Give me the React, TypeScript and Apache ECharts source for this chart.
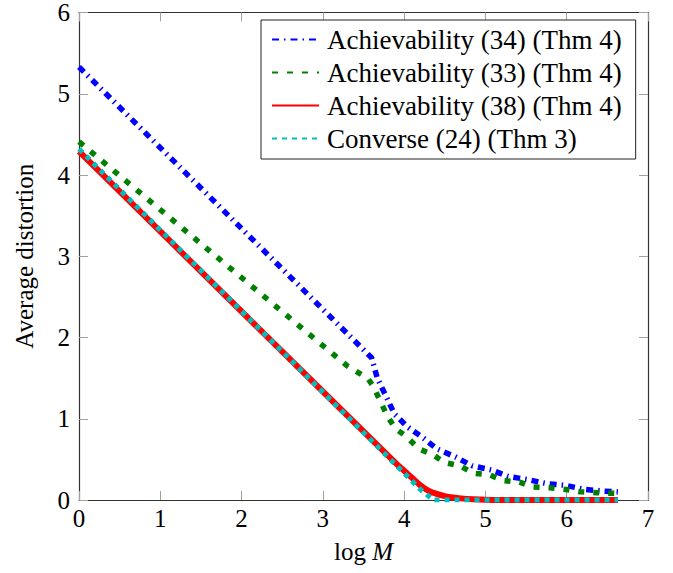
import React, { useEffect, useRef } from "react";
import * as echarts from "echarts";

const seriesNames = [
  "Achievability (34) (Thm 4)",
  "Achievability (33) (Thm 4)",
  "Achievability (38) (Thm 4)",
  "Converse (24) (Thm 3)",
];

const ach34: [number, number][] = [
  [0, 5.33], [3.6, 1.75], [3.67, 1.5], [3.78, 1.27], [3.88, 1.06], [4.04, 0.9],
  [4.24, 0.76], [4.4, 0.63], [4.63, 0.53], [4.84, 0.42], [5.07, 0.37], [5.28, 0.29],
  [5.53, 0.25], [5.76, 0.2], [5.99, 0.18], [6.22, 0.13], [6.45, 0.11], [6.63, 0.1],
];

const ach33: [number, number][] = [
  [0, 4.41], [3.0, 1.9], [3.3, 1.65], [3.55, 1.5], [3.62, 1.4], [3.7, 1.23],
  [3.79, 1.04], [3.89, 0.88], [4.03, 0.78], [4.18, 0.63], [4.35, 0.56], [4.5, 0.46],
  [4.69, 0.42], [4.85, 0.33], [5.05, 0.31], [5.21, 0.24], [5.42, 0.22], [5.58, 0.16],
  [5.79, 0.15], [5.99, 0.13], [6.17, 0.1], [6.36, 0.09], [6.63, 0.08],
];

const ach38: [number, number][] = [
  [0, 4.29], [2.0, 2.32], [3.9, 0.45], [4.0, 0.36], [4.1, 0.27], [4.2, 0.18],
  [4.25, 0.145], [4.3, 0.115], [4.4, 0.075], [4.5, 0.048], [4.6, 0.031], [4.7, 0.02],
  [4.85, 0.01], [5.0, 0.004], [5.3, 0], [6.63, 0],
];

const converse24: [number, number][] = [
  [0, 4.32], [4.0, 0.33], [4.2, 0.13], [4.36, 0], [6.63, 0],
];

const xTicks = { min: 0, max: 7, interval: 1 };
const yTicks = { min: 0, max: 6, interval: 1 };

const FONT = "Liberation Serif";
const FS = 25;
const LFS = 27;

export default function App() {
  const ref = useRef<HTMLDivElement>(null);
  useEffect(() => {
    if (!ref.current) return;
    const chart = echarts.init(ref.current, undefined, { renderer: "svg" });
    const tick = { show: true, inside: true, length: 9, lineStyle: { color: "#a0a0a0", width: 1 } };
    const line = { show: true, onZero: false, lineStyle: { color: "#333", width: 1.2 } };
    const xLabel = { fontFamily: FONT, fontSize: FS, color: "#000", margin: 6 };
    const yLabel = { fontFamily: FONT, fontSize: FS, color: "#000", margin: 9 };
    chart.setOption({
      animation: false,
      backgroundColor: "#fff",
      grid: { left: 79, right: 25, top: 10, bottom: 73, containLabel: false },
      xAxis: [
        {
          type: "value", ...xTicks, position: "bottom",
          axisLine: line, axisTick: tick, axisLabel: xLabel, splitLine: { show: false },
          name: "log {i|M}", nameLocation: "middle", nameGap: 39,
          nameTextStyle: {
            fontFamily: FONT, fontSize: FS, color: "#000",
            rich: { i: { fontFamily: FONT, fontSize: FS, fontStyle: "italic", color: "#000" } },
          },
        },
        {
          type: "value", ...xTicks, position: "top",
          axisLine: line, axisTick: tick, axisLabel: { show: false }, splitLine: { show: false },
        },
      ],
      yAxis: [
        {
          type: "value", ...yTicks, position: "left",
          axisLine: line, axisTick: tick, axisLabel: yLabel, splitLine: { show: false },
          name: "Average distortion", nameLocation: "middle", nameGap: 42, nameRotate: 90,
          nameTextStyle: { fontFamily: FONT, fontSize: FS, color: "#000" },
        },
        {
          type: "value", ...yTicks, position: "right",
          axisLine: line, axisTick: tick, axisLabel: { show: false }, splitLine: { show: false },
        },
      ],
      legend: {
        left: 261, top: 20, orient: "vertical",
        data: seriesNames,
        backgroundColor: "#fff", borderColor: "#222", borderWidth: 1,
        padding: [6, 14, 7, 10], itemGap: 6, itemWidth: 47, itemHeight: 8,
        itemStyle: { opacity: 0 },
        textStyle: { fontFamily: FONT, fontSize: LFS, color: "#000", padding: [0, 0, 0, 3] },
        selectedMode: false,
      },
      series: [
        {
          name: seriesNames[0], type: "line", data: ach34, symbol: "none", z: 2,
          itemStyle: { color: "#0000ff" },
          lineStyle: { color: "#0000ff", width: 5.5, type: [7, 5, 1.5, 5], cap: "butt" },
        },
        {
          name: seriesNames[1], type: "line", data: ach33, symbol: "none", z: 3,
          itemStyle: { color: "#008000" },
          lineStyle: { color: "#008000", width: 5.5, type: [6, 9], cap: "butt" },
        },
        {
          name: seriesNames[2], type: "line", data: ach38, symbol: "none", z: 4, smooth: 0.3,
          itemStyle: { color: "#ff0000" },
          lineStyle: { color: "#ff0000", width: 6, type: "solid", cap: "butt" },
        },
        {
          name: seriesNames[3], type: "line", data: converse24, symbol: "none", z: 5,
          itemStyle: { color: "#00bfbf" },
          lineStyle: { color: "#00bfbf", width: 5, type: [5, 5], cap: "butt" },
        },
      ],
    });
    return () => chart.dispose();
  }, []);
  return (
    <div
      ref={ref}
      style={{ position: "absolute", left: 0, top: 0, width: 673, height: 573, background: "#fff" }}
    />
  );
}
